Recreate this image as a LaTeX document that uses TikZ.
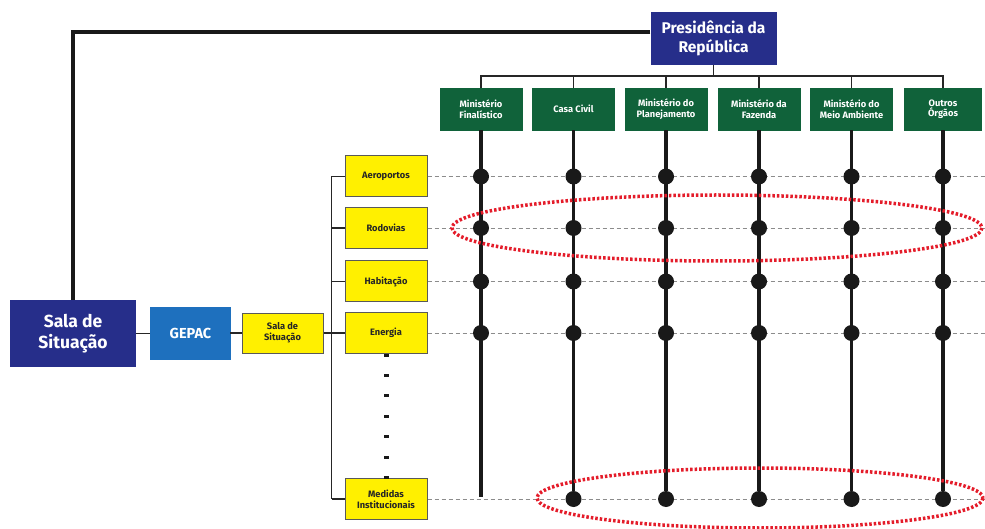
\documentclass[tikz,border=0pt]{standalone}
\usepackage{fontspec}
\setmainfont{Fira Sans}

\begin{document}
\begin{tikzpicture}[x=1pt,y=-1pt]
    \definecolor{sala_blue}{RGB}{38,46,138}
    \definecolor{gepac_blue}{RGB}{30,112,190}
    \definecolor{min_green}{RGB}{16,98,58}
    \definecolor{tema_yellow}{RGB}{255,240,0}
    \definecolor{foco_red}{RGB}{228,28,42}
    \tikzset{
        minbox/.style={shape=rectangle,draw=min_green,fill=min_green,text=white,align=center,inner sep=1pt,
            font=\bfseries\fontsize{9.3}{10.5}\selectfont,minimum width=82pt,minimum height=42pt},
        temabox/.style={shape=rectangle,draw=black!65,line width=1pt,fill=tema_yellow,text=black!85,align=center,inner sep=1pt,
            font=\bfseries\fontsize{9.3}{11}\selectfont,minimum width=82pt,minimum height=41pt},
        knot/.style={shape=circle,fill=black!90,inner sep=0pt,minimum size=16pt},
        haste/.style={line width=3.5pt,black!90},
        ramo/.style={line width=1.8pt,black!85},
        fio/.style={line width=0.6pt,black!45,dash pattern=on 4pt off 3pt},
        foco/.style={line width=3.5pt,foco_red,dash pattern=on 2.5pt off 2pt}
    }
    \useasboundingbox (0,0) rectangle (985,529);
    % topo
    \node[shape=rectangle,fill=sala_blue,text=white,align=center,inner sep=1pt,minimum width=126pt,minimum height=53pt,
        font=\bfseries\fontsize{15.5}{19}\selectfont] (pres) at (713.5,38.5) {Presidência da\\República};
    \node[shape=rectangle,fill=sala_blue,text=white,align=center,inner sep=1pt,minimum width=126pt,minimum height=67pt,
        font=\bfseries\fontsize{17.5}{21}\selectfont] (sala) at (73,333.5) {Sala de\\Situação};
    \node[shape=rectangle,fill=gepac_blue,text=white,inner sep=1pt,minimum width=81pt,minimum height=53pt,
        font=\bfseries\fontsize{14.5}{16}\selectfont] (gepac) at (190.5,333.5) {GEPAC};
    \node[temabox,minimum width=81pt,minimum height=40pt] (salay) at (282.5,333) {Sala de\\Situação};
    % ministerios
    \node[minbox] (m1) at (481,109) {Ministério\\Finalístico};
    \node[minbox] (m2) at (573.5,109) {Casa Civil};
    \node[minbox] (m3) at (666,109) {Ministério do\\Planejamento};
    \node[minbox] (m4) at (759,109) {Ministério da\\Fazenda};
    \node[minbox] (m5) at (851.5,109) {Ministério do\\Meio Ambiente};
    \node[minbox,minimum width=77pt] (m6) at (943,109) {Outros\\Órgãos};
    % temas
    \node[temabox] (t1) at (386,176.5) {Aeroportos};
    \node[temabox] (t2) at (386,228) {Rodovias};
    \node[temabox] (t3) at (386,281.5) {Habitação};
    \node[temabox] (t4) at (386,333) {Energia};
    \node[temabox] (t5) at (386,499) {Medidas\\Institucionais};
    % ligacoes
    \draw[haste] (pres.west |- 0,32) -| (sala.north);
    \draw[ramo] (sala.east) -- (gepac.west);
    \draw[ramo] (gepac.east) -- (salay.east -| gepac.east) -- (salay.west);
    \draw[ramo] (salay.east) -- ([xshift=-13pt]t4.west);
    \draw[ramo] ([xshift=-13pt]t1.west) -- ([xshift=-13pt]t5.west);
    \foreach \r in {1,...,5}
        \draw[ramo] (t\r.west) -- ++(-13,0);
    \draw[ramo] (pres.south) -- (pres.south |- 0,76);
    \draw[ramo] (m1.north) |- (m6.north |- 0,76) -- (m6.north);
    \foreach \c in {2,...,5}
        \draw[ramo] (m\c.north) -- (m\c.north |- 0,76);
    % linhas de tema
    \foreach \r in {1,...,5}
        \draw[fio] (t\r.east) -- (985,0 |- t\r.east);
    \foreach \k in {0,...,6}
        \fill[black!90] (383.5,353.5+20.4*\k) rectangle +(5,3);
    % hastes e nos
    \coordinate (fim1) at (m1.south |- 0,497);
    \draw[haste] (m1.south) -- (fim1);
    \foreach \c in {1,...,6}
        \foreach \r in {1,...,4}
            \node[knot] (d\c\r) at (m\c.south |- t\r.east) {};
    \foreach \c in {2,...,6} {
        \node[knot] (d\c5) at (m\c.south |- t5.east) {};
        \draw[haste] (m\c.south) -- (d\c5);
    }
    % destaques
    \draw[foco] (717,228) ellipse [x radius=265, y radius=33];
    \draw[foco] (760,498) ellipse [x radius=223, y radius=30];
\end{tikzpicture}
\end{document}
